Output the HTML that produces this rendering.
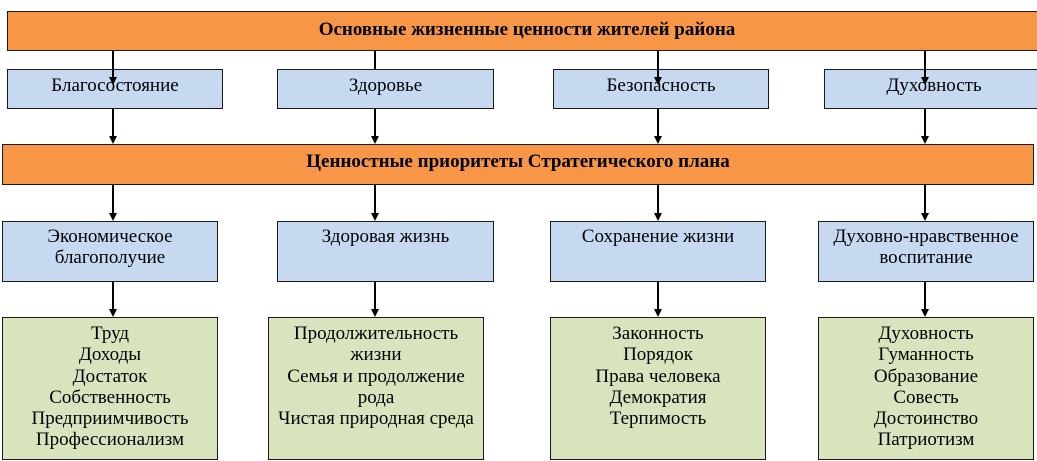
<!DOCTYPE html>
<html><head><meta charset="utf-8">
<style>
html,body{margin:0;padding:0;background:#fff;}
body{width:1037px;height:461px;position:relative;overflow:hidden;font-family:"Liberation Serif","Times New Roman",serif;color:#000;}
.b{position:absolute;box-sizing:border-box;border:1px solid #1a1a1a;text-align:center;font-size:19px;line-height:21px;white-space:nowrap;}
.o{background:#F79646;font-weight:bold;padding-top:7px;}
.bl{background:#C6D9F1;}
.g{background:#D7E4BD;}
svg{position:absolute;left:0;top:0;}
</style></head><body>
<svg width="1037" height="461" style="z-index:0">
<g stroke="#000" stroke-width="2">
<line x1="375" y1="50" x2="375" y2="70"/>
<line x1="113" y1="108" x2="113" y2="137"/>
<line x1="375" y1="108" x2="375" y2="137"/>
<line x1="658" y1="108" x2="658" y2="137"/>
<line x1="925" y1="108" x2="925" y2="137"/>
<line x1="113" y1="184" x2="113" y2="214"/>
<line x1="375" y1="184" x2="375" y2="214"/>
<line x1="658" y1="184" x2="658" y2="214"/>
<line x1="925" y1="184" x2="925" y2="214"/>
<line x1="113" y1="281" x2="113" y2="310"/>
<line x1="375" y1="281" x2="375" y2="310"/>
<line x1="658" y1="281" x2="658" y2="310"/>
<line x1="925" y1="281" x2="925" y2="310"/>
</g>
<g fill="#000">
<polygon points="109,136 117,136 113,144"/>
<polygon points="371,136 379,136 375,144"/>
<polygon points="654,136 662,136 658,144"/>
<polygon points="921,136 929,136 925,144"/>
<polygon points="109,213 117,213 113,221"/>
<polygon points="371,213 379,213 375,221"/>
<polygon points="654,213 662,213 658,221"/>
<polygon points="921,213 929,213 925,221"/>
<polygon points="109,309 117,309 113,317"/>
<polygon points="371,309 379,309 375,317"/>
<polygon points="654,309 662,309 658,317"/>
<polygon points="921,309 929,309 925,317"/>
</g>
</svg>

<div class="b o" style="left:7px;top:11px;width:1040px;height:40px;">Основные жизненные ценности жителей района</div>

<div class="b bl" style="left:7px;top:69px;width:216px;height:40px;padding-top:5px;">Благосостояние</div>
<div class="b bl" style="left:277px;top:69px;width:217px;height:40px;padding-top:5px;">Здоровье</div>
<div class="b bl" style="left:553px;top:69px;width:216px;height:40px;padding-top:5px;">Безопасность</div>
<div class="b bl" style="left:824px;top:69px;width:220px;height:40px;padding-top:5px;">Духовность</div>

<div class="b o" style="left:2px;top:144px;width:1032px;height:41px;padding-top:6px;">Ценностные приоритеты Стратегического плана</div>

<div class="b bl" style="left:2px;top:221px;width:216px;height:61px;padding-top:4px;">Экономическое<br>благополучие</div>
<div class="b bl" style="left:277px;top:221px;width:217px;height:61px;padding-top:4px;">Здоровая жизнь</div>
<div class="b bl" style="left:550px;top:221px;width:216px;height:61px;padding-top:4px;">Сохранение жизни</div>
<div class="b bl" style="left:818px;top:221px;width:216px;height:61px;padding-top:4px;">Духовно-нравственное<br>воспитание</div>

<div class="b g" style="left:2px;top:317px;width:216px;height:143px;padding-top:5px;line-height:21.3px;">Труд<br>Доходы<br>Достаток<br>Собственность<br>Предприимчивость<br>Профессионализм</div>
<div class="b g" style="left:268px;top:317px;width:216px;height:143px;padding-top:5px;line-height:21.3px;">Продолжительность<br>жизни<br>Семья и продолжение<br>рода<br>Чистая природная среда</div>
<div class="b g" style="left:550px;top:317px;width:216px;height:143px;padding-top:5px;line-height:21.3px;">Законность<br>Порядок<br>Права человека<br>Демократия<br>Терпимость</div>
<div class="b g" style="left:818px;top:317px;width:216px;height:143px;padding-top:5px;line-height:21.3px;">Духовность<br>Гуманность<br>Образование<br>Совесть<br>Достоинство<br>Патриотизм</div>

<svg width="1037" height="461" style="z-index:5;pointer-events:none">
<g stroke="#000" stroke-width="2">
<line x1="113" y1="50" x2="113" y2="78"/>
<line x1="658" y1="50" x2="658" y2="78"/>
<line x1="925" y1="50" x2="925" y2="78"/>
</g>
<g fill="#000">
<polygon points="109,77 117,77 113,85"/>
<polygon points="654,77 662,77 658,85"/>
<polygon points="921,77 929,77 925,85"/>
</g>
</svg>
</body></html>
